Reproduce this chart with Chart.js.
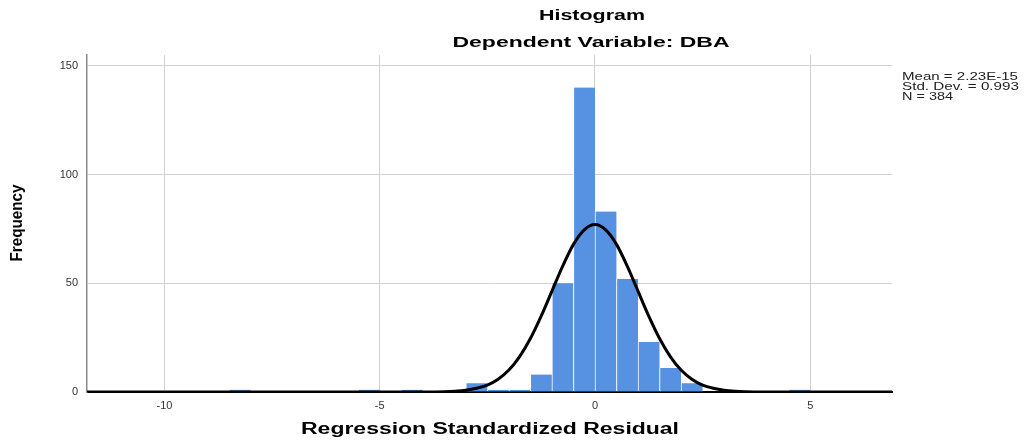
<!DOCTYPE html>
<html><head><meta charset="utf-8">
<script src="https://cdn.jsdelivr.net/npm/chart.js@4"></script>
<style>html,body{margin:0;padding:0;background:#fff}#wrap{width:1027px;height:440px;position:relative}</style>
</head><body><div id="wrap"><canvas id="c" width="1027" height="440"></canvas></div>
<script>
// Histogram bins (centres of 0.5-wide bins) and their frequencies
const binCenters = [-8.25, -5.25, -4.25, -2.75, -2.25, -1.75, -1.25, -0.75, -0.25, 0.25, 0.75, 1.25, 1.75, 2.25, 4.75];
const counts     = [1, 1, 1, 4, 1, 1, 8, 50, 140, 83, 52, 23, 11, 4, 1];
// Normal curve
const curveX = [-11.8, -4.5, -4, -3.5, -3.25, -3, -2.75, -2.5, -2.25, -2, -1.75, -1.5, -1.25, -1, -0.75, -0.5, -0.25, 0, 0.25, 0.5, 0.75, 1, 1.25, 1.5, 1.75, 2, 2.25, 2.5, 2.75, 3, 3.25, 3.5, 4, 4.5, 6.9];
const curveY = [0, 0, 0.02, 0.15, 0.36, 0.8, 1.7, 3.2, 5.9, 10.1, 16.3, 24.6, 34.9, 46.4, 57.9, 67.9, 74.6, 77, 74.6, 67.9, 57.9, 46.4, 34.9, 24.6, 16.3, 10.1, 5.9, 3.2, 1.7, 0.8, 0.36, 0.15, 0.02, 0, 0];
const xTicks = [-10, -5, 0, 5];
const yTicks = [0, 50, 100, 150];
const titleLines = ['Histogram', 'Dependent Variable: DBA'];
const xTitle = 'Regression Standardized Residual';
const yTitle = 'Frequency';
const statLines = ['Mean = 2.23E-15', 'Std. Dev. = 0.993', 'N = 384'];

const FONT = '"Liberation Sans", Arial, Helvetica, sans-serif';

function fitText(ctx, text, x, y, font, targetW, align, rot) {
  ctx.save();
  ctx.font = font;
  const w = ctx.measureText(text).width;
  const sx = targetW / w;
  ctx.translate(x, y);
  if (rot) ctx.rotate(-Math.PI / 2);
  ctx.scale(sx, 1);
  ctx.textBaseline = 'middle';
  ctx.textAlign = align;
  ctx.fillText(text, 0, 0);
  ctx.restore();
}

const textPlugin = {
  id: 'texts',
  afterDraw(chart) {
    const ctx = chart.ctx;
    ctx.fillStyle = '#000';
    fitText(ctx, titleLines[0], 592, 16, 'bold 15px ' + FONT, 106, 'center');
    fitText(ctx, titleLines[1], 591, 43, 'bold 15px ' + FONT, 277, 'center');
    fitText(ctx, yTitle, 18, 223, 'bold 16px ' + FONT, 77, 'center', true);
    fitText(ctx, xTitle, 490, 430, 'bold 16px ' + FONT, 378, 'center');
    ctx.fillStyle = '#222';
    fitText(ctx, statLines[0], 902, 77, '11px ' + FONT, 116, 'left');
    fitText(ctx, statLines[1], 902, 87, '11px ' + FONT, 117, 'left');
    fitText(ctx, statLines[2], 902, 97, '11px ' + FONT, 51, 'left');
  }
};

new Chart(document.getElementById('c'), {
  type: 'bar',
  data: {
    datasets: [
      {
        type: 'line',
        data: curveX.map((x, i) => ({ x: x, y: curveY[i] })),
        borderColor: '#000',
        borderWidth: 3,
        pointRadius: 0,
        cubicInterpolationMode: 'monotone',
        fill: false,
        order: 0
      },
      {
        type: 'bar',
        data: binCenters.map((x, i) => ({ x: x, y: counts[i] })),
        backgroundColor: 'rgb(86,145,226)',
        borderColor: 'rgba(255,255,255,0.75)',
        borderWidth: { left: 1, right: 0, top: 0, bottom: 0 },
        borderSkipped: false,
        barPercentage: 1,
        categoryPercentage: 1,
        order: 1
      }
    ]
  },
  options: {
    responsive: false,
    animation: false,
    events: [],
    layout: { padding: { left: 0, right: 135, top: 55, bottom: 0 } },
    plugins: { legend: { display: false }, tooltip: { enabled: false }, title: { display: false } },
    scales: {
      x: {
        type: 'linear',
        min: -11.8,
        max: 6.9,
        offset: false,
        afterBuildTicks: s => { s.ticks = xTicks.map(v => ({ value: v })); },
        afterFit: s => { s.height = 48; },
        grid: { color: '#d2d2d2', lineWidth: 1, drawTicks: false, offset: false },
        border: { color: '#000', width: 2 },
        ticks: { color: '#333', font: { size: 11, family: FONT }, padding: 7, maxRotation: 0, autoSkip: false }
      },
      y: {
        min: 0,
        max: 155,
        afterBuildTicks: s => { s.ticks = yTicks.map(v => ({ value: v })); },
        afterFit: s => { s.width = 87; },
        grid: { color: c => (c.tick && c.tick.value === 0 ? 'rgba(0,0,0,0)' : '#d2d2d2'), lineWidth: 1, drawTicks: false },
        border: { color: '#8a8a8a', width: 1.5 },
        ticks: { color: '#333', font: { size: 11, family: FONT }, padding: 9 }
      }
    }
  },
  plugins: [textPlugin]
});
</script>
</body></html>
